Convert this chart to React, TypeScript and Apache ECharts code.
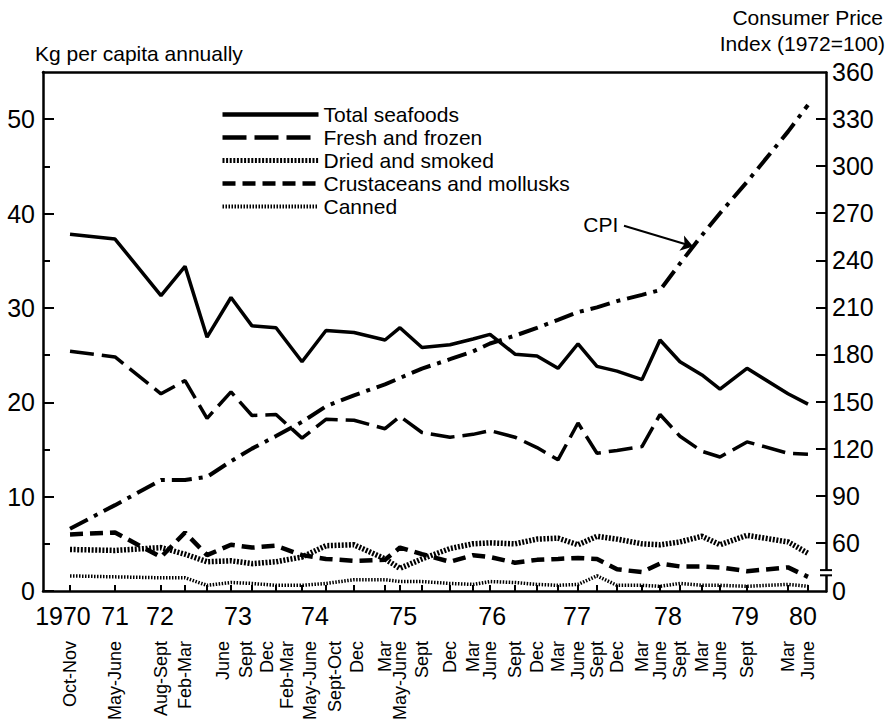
import React, { useEffect, useRef } from 'react';
import * as echarts from 'echarts';

const FONT = "'Liberation Sans', Arial, Helvetica, sans-serif";

// survey periods along the x axis (axis position 0..100 from left to right frame)
const surveyLabels = ['Oct-Nov', 'May-June', 'Aug-Sept', 'Feb-Mar', 'June', 'Sept', 'Dec', 'Feb-Mar', 'May-June', 'Sept-Oct', 'Dec', 'Mar', 'May-June', 'Sept', 'Dec', 'Mar', 'June', 'Sept', 'Dec', 'Mar', 'June', 'Sept', 'Dec', 'Mar', 'June', 'Sept', 'Mar', 'June', 'Sept', 'Mar', 'June'];
// where each survey label is printed
const surveyLabelPos = [3.45, 9.2, 15.07, 18.14, 22.99, 25.93, 28.61, 31.16, 34.1, 37.29, 40.1, 43.68, 45.59, 48.4, 51.98, 54.92, 57.09, 60.28, 63.09, 65.77, 68.33, 70.75, 73.31, 76.5, 78.8, 81.35, 84.16, 86.46, 89.91, 95.15, 97.7];
// where each survey is plotted
const surveyPlotPos = [3.45, 9.2, 15.07, 18.14, 20.95, 24.01, 26.69, 29.76, 33.08, 36.14, 39.72, 43.68, 45.59, 48.4, 51.98, 54.92, 57.09, 60.28, 63.09, 65.77, 68.33, 70.75, 73.31, 76.5, 78.8, 81.35, 84.16, 86.46, 89.91, 95.15, 97.7];
const yearLabels = ['1970', '71', '72', '73', '74', '75', '76', '77', '78', '79', '80'];
const yearPos = [2.55, 9.2, 14.94, 24.9, 34.74, 46.01, 57.37, 68.2, 79.82, 89.66, 97.06];

// kg per capita annually
const totalSeafoods = [37.8, 37.3, 31.3, 34.4, 26.9, 31.1, 28.1, 27.9, 24.3, 27.6, 27.4, 26.6, 27.9, 25.8, 26.1, 26.7, 27.2, 25.1, 24.9, 23.6, 26.2, 23.8, 23.3, 22.4, 26.6, 24.3, 22.9, 21.4, 23.6, 20.9, 19.8];
const freshFrozen = [25.4, 24.8, 20.9, 22.3, 18.3, 21.1, 18.6, 18.7, 16.2, 18.2, 18.1, 17.2, 18.5, 16.8, 16.3, 16.6, 17.0, 16.3, 15.2, 13.9, 17.8, 14.6, 14.9, 15.3, 18.7, 16.4, 14.8, 14.2, 15.8, 14.6, 14.5];
const driedSmoked = [4.4, 4.3, 4.6, 3.9, 3.1, 3.2, 2.9, 3.1, 3.6, 4.8, 4.9, 3.4, 2.4, 3.4, 4.5, 5.0, 5.1, 5.0, 5.5, 5.6, 4.9, 5.8, 5.5, 5.0, 4.9, 5.2, 5.8, 4.9, 5.9, 5.2, 4.0];
const crustaceans = [6.0, 6.2, 3.6, 6.2, 3.8, 4.9, 4.6, 4.8, 3.8, 3.4, 3.2, 3.3, 4.6, 3.9, 3.1, 3.8, 3.6, 3.0, 3.3, 3.4, 3.5, 3.4, 2.3, 2.0, 2.9, 2.6, 2.6, 2.5, 2.1, 2.5, 1.5];
const canned = [1.6, 1.5, 1.4, 1.4, 0.6, 0.9, 0.8, 0.6, 0.6, 0.8, 1.2, 1.2, 1.0, 1.0, 0.8, 0.7, 1.0, 0.9, 0.7, 0.6, 0.7, 1.6, 0.6, 0.6, 0.5, 0.8, 0.6, 0.6, 0.5, 0.7, 0.5];
// Consumer Price Index (1972 = 100)
const cpi = [69, 84, 100, 100, 102, 112, 120, 128, 137, 147, 154, 161, 165, 171, 177, 182, 187, 192, 197, 202, 207, 210, 214, 218, 221, 238, 256, 270, 290, 322, 339];

const leftLabels = [0, 10, 20, 30, 40, 50];
const leftMinor = [5, 15, 25, 35, 45];
const rightLabels = [0, 60, 90, 120, 150, 180, 210, 240, 270, 300, 330, 360];
const rightTicks = [60, 90, 120, 150, 180, 210, 240, 270, 300, 330];
const cpiBreak = { start: 10, end: 42.6 };

const nearestIdx = (arr: number[], v: number) => {
  let b = 0;
  for (let i = 1; i < arr.length; i++) if (Math.abs(arr[i] - v) < Math.abs(arr[b] - v)) b = i;
  return b;
};

const black = '#000';
const axisLineStyle = { color: black, width: 2.5 };

export default function App() {
  const ref = useRef<HTMLDivElement>(null);
  useEffect(() => {
    const chart = echarts.init(ref.current!, null, { renderer: 'svg' });
    const toPts = (arr: number[]) => surveyPlotPos.map((x, i) => [x, arr[i]]);
    // arrow target on the CPI line (between Sept 78 and Mar 79)
    const ax = surveyPlotPos[25] + (surveyPlotPos[26] - surveyPlotPos[25]) * 0.6;
    const ay = cpi[25] + (cpi[26] - cpi[25]) * 0.6;
    const lineBase = { type: 'line', symbol: 'none', silent: true, emphasis: { disabled: true }, itemStyle: { color: black } };
    const option: any = {
      animation: false,
      backgroundColor: '#fff',
      textStyle: { fontFamily: FONT, color: black },
      grid: { left: 43, right: 65, top: 72, bottom: 135 },
      legend: {
        orient: 'vertical', left: 220, top: 104, itemWidth: 96, itemHeight: 14, itemGap: 2, padding: 0,
        selectedMode: false,
        itemStyle: { opacity: 0 },
        textStyle: { fontSize: 21, color: black, fontFamily: FONT },
        data: [
          { name: 'Total seafoods', lineStyle: { width: 4.5 } },
          { name: 'Fresh and frozen', lineStyle: { width: 4.5 } },
          { name: 'Dried and smoked', lineStyle: { width: 5 } },
          { name: 'Crustaceans and mollusks', lineStyle: { width: 4.5 } },
          { name: 'Canned', lineStyle: { width: 4 } },
        ],
      },
      xAxis: [
        {
          type: 'value', min: 0, max: 100, position: 'bottom',
          axisLine: { show: true, onZero: false, lineStyle: axisLineStyle },
          axisTick: { show: true, inside: true, length: 6, customValues: surveyPlotPos, lineStyle: { color: black, width: 2 } },
          axisLabel: { customValues: yearPos, formatter: (v: number) => yearLabels[nearestIdx(yearPos, v)], fontSize: 25, color: black, fontFamily: FONT, margin: 12 },
          splitLine: { show: false },
        },
        {
          type: 'value', min: 0, max: 100, position: 'bottom',
          axisLine: { show: false }, axisTick: { show: false },
          axisLabel: { customValues: surveyLabelPos, formatter: (v: number) => surveyLabels[nearestIdx(surveyLabelPos, v)], rotate: 90, fontSize: 18, color: black, fontFamily: FONT, margin: 50 },
          splitLine: { show: false },
        },
        {
          type: 'value', min: 0, max: 100, position: 'top',
          axisLine: { show: true, onZero: false, lineStyle: axisLineStyle },
          axisTick: { show: false }, axisLabel: { show: false }, splitLine: { show: false },
        },
      ],
      yAxis: [
        {
          type: 'value', min: 0, max: 55, position: 'left',
          axisLine: { show: true, onZero: false, lineStyle: axisLineStyle },
          axisTick: { show: true, inside: true, length: 11, customValues: leftLabels, lineStyle: { color: black, width: 2 } },
          axisLabel: { customValues: leftLabels, fontSize: 25, color: black, fontFamily: FONT, margin: 8 },
          splitLine: { show: false },
        },
        {
          type: 'value', min: 0, max: 360, position: 'right',
          breaks: [{ start: cpiBreak.start, end: cpiBreak.end, gap: '1%' }],
          breakArea: { show: false, itemStyle: { opacity: 0 } },
          axisLine: { show: true, onZero: false, lineStyle: axisLineStyle },
          axisTick: { show: true, inside: true, length: 10, customValues: rightTicks, lineStyle: { color: black, width: 2 } },
          axisLabel: { customValues: rightLabels, fontSize: 25, color: black, fontFamily: FONT, margin: 6 },
          splitLine: { show: false },
        },
        {
          type: 'value', min: 0, max: 55, position: 'left',
          axisLine: { show: false },
          axisTick: { show: true, inside: true, length: 7, customValues: leftMinor, lineStyle: { color: black, width: 2 } },
          axisLabel: { show: false }, splitLine: { show: false },
        },
      ],
      series: [
        { ...lineBase, name: 'Total seafoods', data: toPts(totalSeafoods), lineStyle: { color: black, width: 3.5, type: 'solid' } },
        { ...lineBase, name: 'Fresh and frozen', data: toPts(freshFrozen), lineStyle: { color: black, width: 3.5, type: [24, 8], cap: 'butt' } },
        { ...lineBase, name: 'Dried and smoked', data: toPts(driedSmoked), lineStyle: { color: black, width: 5.5, type: [2, 1.6], cap: 'butt' } },
        { ...lineBase, name: 'Crustaceans and mollusks', data: toPts(crustaceans), lineStyle: { color: black, width: 4.5, type: [13, 7], cap: 'butt' } },
        { ...lineBase, name: 'Canned', data: toPts(canned), lineStyle: { color: black, width: 3.5, type: [1.5, 1.5], cap: 'butt' } },
        {
          ...lineBase, name: 'CPI', yAxisIndex: 1, data: toPts(cpi),
          lineStyle: { color: black, width: 4, type: [20, 7, 4, 7], cap: 'butt' },
          markLine: {
            silent: true, animation: false, symbol: ['none', 'arrow'], symbolSize: 12,
            lineStyle: { color: black, width: 2, type: 'solid' },
            label: { show: true, position: 'start', formatter: 'CPI', fontSize: 21, color: black, fontFamily: FONT, distance: 6 },
            emphasis: { disabled: true },
            data: [[{ coord: [74.2, 262] }, { coord: [ax, ay] }]],
          },
        },
      ],
      graphic: [
        { id: 't1', type: 'text', x: 35, y: 53, style: { text: 'Kg per capita annually', fontSize: 21, fontFamily: FONT, fill: black, align: 'left', verticalAlign: 'middle' } },
        { id: 't2', type: 'text', x: 883, y: 17, style: { text: 'Consumer Price', fontSize: 21, fontFamily: FONT, fill: black, align: 'right', verticalAlign: 'middle' } },
        { id: 't3', type: 'text', x: 885, y: 43, style: { text: 'Index (1972=100)', fontSize: 21, fontFamily: FONT, fill: black, align: 'right', verticalAlign: 'middle' } },
      ],
    };
    chart.setOption(option);
    const xR = chart.convertToPixel({ xAxisIndex: 0 }, 100) as number;
    const yA = chart.convertToPixel({ yAxisIndex: 1 }, cpiBreak.start) as number;
    const yB = chart.convertToPixel({ yAxisIndex: 1 }, cpiBreak.end) as number;
    if (isFinite(xR) && isFinite(yA) && isFinite(yB)) {
      chart.setOption({
        graphic: [
          { id: 'brkBg', type: 'rect', z: 100, shape: { x: xR - 3, y: Math.min(yA, yB), width: 6, height: Math.abs(yA - yB) }, style: { fill: '#fff' } },
          { id: 'brk1', type: 'line', z: 101, shape: { x1: xR - 6, y1: yA, x2: xR + 6, y2: yA }, style: { stroke: black, lineWidth: 2 } },
          { id: 'brk2', type: 'line', z: 101, shape: { x1: xR - 6, y1: yB, x2: xR + 6, y2: yB }, style: { stroke: black, lineWidth: 2 } },
        ],
      });
    }
    return () => chart.dispose();
  }, []);
  return <div ref={ref} style={{ position: 'fixed', left: 0, top: 0, width: 891, height: 726, background: '#fff' }} />;
}
